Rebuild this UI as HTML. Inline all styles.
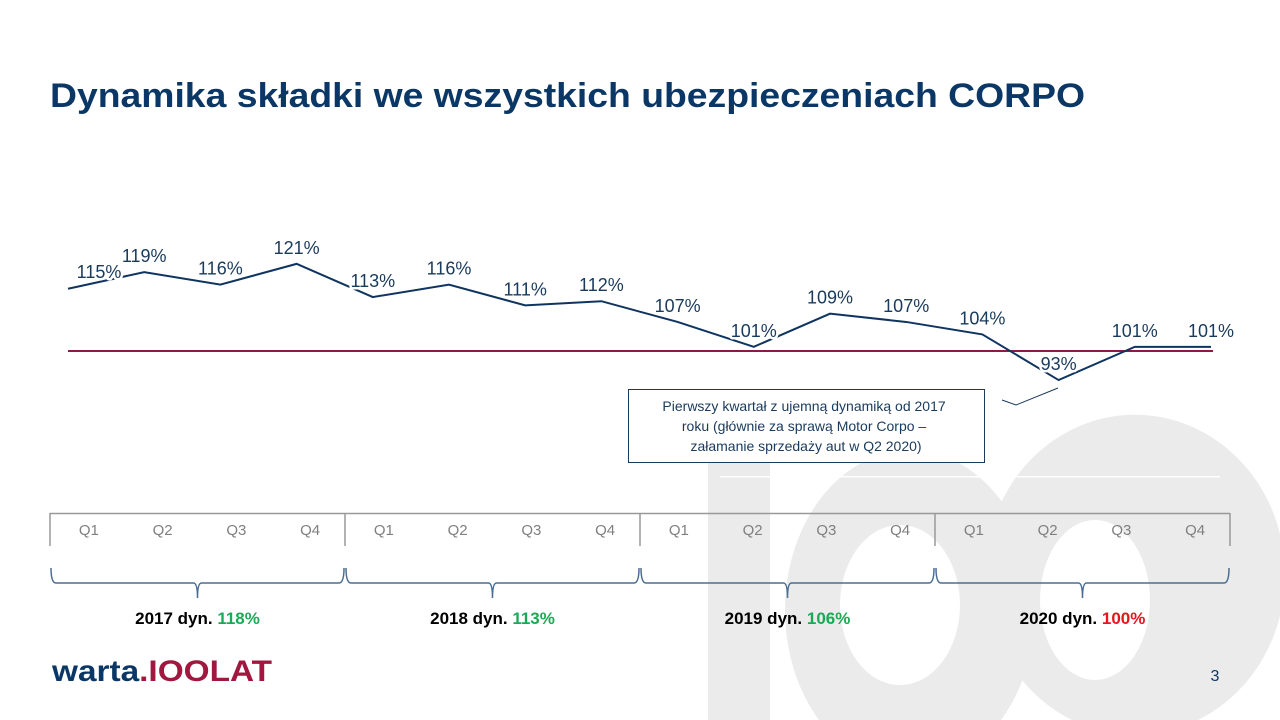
<!DOCTYPE html>
<html><head><meta charset="utf-8">
<style>
html,body{margin:0;padding:0;background:#fff;width:1280px;height:720px;overflow:hidden;}
body{position:relative;font-family:"Liberation Sans",Arial,sans-serif;}
svg{display:block;}
</style></head>
<body>
<svg width="1280" height="720" viewBox="0 0 1280 720" style="position:absolute;left:0;top:0;overflow:hidden">
  <g fill="#ebebeb">
    <rect x="708" y="460" width="62" height="260"/>
    <path fill-rule="evenodd" d="M819,720 A125,160 0 1 1 1001,720 Z M840,605 A60,80 0 1 0 960,605 A60,80 0 1 0 840,605 Z"/>
    <path fill-rule="evenodd" d="M1072,720 A150,160 0 1 1 1280,534 L1280,616 A150,160 0 0 1 1198,720 Z M1040,600 A55,80 0 1 0 1150,600 A55,80 0 1 0 1040,600 Z"/>
    <rect x="720" y="476" width="500" height="1.5" fill="#fff"/>
  </g>
  <text x="50" y="107" font-size="34" font-weight="bold" fill="#0b3766" textLength="1035" lengthAdjust="spacingAndGlyphs">Dynamika składki we wszystkich ubezpieczeniach CORPO</text>
  <g id="plot"></g>
  <g>
    <polyline points="1058,388 1016,405 1002,400" fill="none" stroke="#1a3a5c" stroke-width="1"/>
    <rect x="628.5" y="389.5" width="356" height="73" fill="#fff" stroke="#1a3a5c" stroke-width="1"/>
    <text font-size="14" fill="#1a3a5c" text-anchor="middle">
      <tspan x="806" y="411">Pierwszy kwartał z ujemną dynamiką od 2017</tspan>
      <tspan x="806" y="431">roku (głównie za sprawą Motor Corpo –</tspan>
      <tspan x="806" y="451">załamanie sprzedaży aut w Q2 2020)</tspan>
    </text>
  </g>
  <g id="axis"></g>
  <g id="years"></g>
  <g>
    <text x="52" y="681" font-size="30" font-weight="bold" fill="#0b3766" textLength="220" lengthAdjust="spacingAndGlyphs">warta<tspan fill="#a0173f">.</tspan><tspan fill="#a0173f">IOOLAT</tspan></text>
  </g>
  <text x="1215" y="681" font-size="16" fill="#0b3766" text-anchor="middle">3</text>
</svg>
<script>
const quarters = ["Q1","Q2","Q3","Q4","Q1","Q2","Q3","Q4","Q1","Q2","Q3","Q4","Q1","Q2","Q3","Q4"];
const values = [115,119,116,121,113,116,111,112,107,101,109,107,104,93,101,101];
const years = ["2017","2018","2019","2020"];
const yearDyn = [118,113,106,100];
const baseline = 100;

const NS="http://www.w3.org/2000/svg";
function mk(tag,attrs,parent){const e=document.createElementNS(NS,tag);for(const k in attrs)e.setAttribute(k,attrs[k]);parent.appendChild(e);return e;}
const xPt = i => 68 + i*(1211-68)/15;
const yPt = v => 351 - (v-baseline)*4.15;
const plot=document.getElementById('plot');

const bl=mk('line',{x1:68,x2:1213,y1:yPt(baseline),y2:yPt(baseline),stroke:'#8b1a45','stroke-width':2},plot);



const pl=mk('polyline',{points:values.map((v,i)=>xPt(i)+','+yPt(v)).join(' '),fill:'none',stroke:'#0f3460','stroke-width':2,'stroke-linejoin':'miter'},plot);



values.forEach((v,i)=>{
  let x=xPt(i), y=yPt(v)-10;
  if(i===0){x+=31;y-=1;}
  const t=mk('text',{x:x,y:y,'font-size':18,fill:'#1a3a5c','text-anchor':'middle',stroke:'#fff','stroke-width':5,'paint-order':'stroke','stroke-linejoin':'round'},plot);
  t.textContent=v+'%';
  
  
});

const axis=document.getElementById('axis');
const axL=50, axR=1230, qw=(axR-axL)/16;
mk('line',{x1:axL,x2:axR,y1:513.5,y2:513.5,stroke:'#999','stroke-width':1.5},axis);
years.forEach((y,k)=>{
  const x0=axL+k*4*qw;
  mk('line',{x1:x0,x2:x0,y1:513,y2:546,stroke:'#999','stroke-width':1.5},axis);
});
mk('line',{x1:axR,x2:axR,y1:513,y2:546,stroke:'#999','stroke-width':1.5},axis);
quarters.forEach((q,i)=>{
  const t=mk('text',{x:axL+(i+0.5)*qw+2,y:535,'font-size':15,fill:'#7f7f7f','text-anchor':'middle'},axis);
  t.textContent=q;
  
  
});

const yg=document.getElementById('years');
years.forEach((y,k)=>{
  const x0=axL+k*4*qw+1, x1=axL+(k+1)*4*qw-1, cx=(x0+x1)/2;
  const br=mk('path',{d:`M${x0},568 Q${x0},583 ${x0+5},583 L${cx-4},583 Q${cx},583 ${cx},598 Q${cx},583 ${cx+4},583 L${x1-5},583 Q${x1},583 ${x1},568`,fill:'none',stroke:'#4a6d94','stroke-width':1.5},yg);
  
  
  const t=mk('text',{x:cx,y:624,'font-size':17,'font-weight':'bold',fill:'#000','text-anchor':'middle'},yg);
  
  
  const s1=mk('tspan',{},t); s1.textContent=y+' dyn. ';
  const s2=mk('tspan',{fill:yearDyn[k]>100?'#1aaa55':'#e8141c'},t); s2.textContent=yearDyn[k]+'%';
});
</script>
</body></html>
